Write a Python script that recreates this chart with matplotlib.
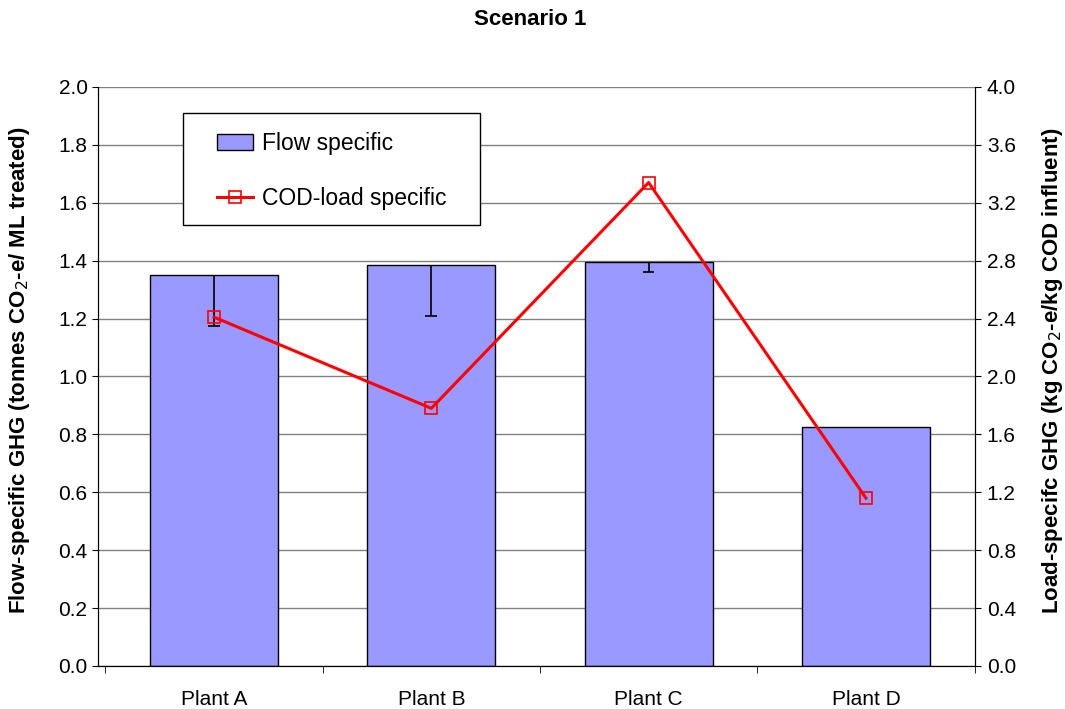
import numpy as np
import matplotlib.pyplot as plt
from matplotlib.patches import Rectangle

plt.rcParams['font.family'] = ['Liberation Sans', 'DejaVu Sans']

plants = ['Plant A', 'Plant B', 'Plant C', 'Plant D']
flow_specific = [1.35, 1.385, 1.395, 0.826]
flow_err_minus = [0.176, 0.175, 0.035, 0.0]
cod_specific = [2.41, 1.78, 3.34, 1.16]

x = np.arange(len(plants))

fig = plt.figure(figsize=(10.65, 7.09), dpi=100)
ax = fig.add_axes([0.092, 0.0607, 0.8235, 0.8166])

ax.set_axisbelow(True)
ax.yaxis.grid(True, color='#808080', linewidth=1.0)
ax.bar(x, flow_specific, width=0.589, color='#9999ff', edgecolor='black',
       linewidth=1.0, label='Flow specific', zorder=2)

# minus-only error bars, cap at the lower end only
for xi, yi, e in zip(x, flow_specific, flow_err_minus):
    if e > 0:
        ax.vlines(xi, yi - e, yi, color='black', linewidth=1.2, zorder=3)
        ax.hlines(yi - e, xi - 0.027, xi + 0.027, color='black', linewidth=1.2, zorder=3)

ax.set_xlim(-0.534, 3.502)
ax.set_ylim(0, 2.0)
yt = np.arange(0, 2.01, 0.2)
ax.set_yticks(yt)
ax.set_yticklabels([f'{v:.1f}' for v in yt])
ax.set_xticks(x)
ax.set_xticklabels(plants)
ax.set_xticks(np.arange(-0.5, len(plants)), minor=True)
ax.tick_params(axis='x', which='major', length=0, pad=17, labelsize=15)
ax.tick_params(axis='x', which='minor', length=5, direction='out')
ax.tick_params(axis='y', length=4.5, pad=3, direction='out', labelsize=15)
ax.spines['top'].set_visible(False)
ax.set_ylabel('Flow-specific GHG (tonnes CO$_2$-e/ ML treated)', fontsize=16,
              fontweight='bold')
ax.yaxis.set_label_coords(-0.0753, 0.51)

ax2 = ax.twinx()
ax2.plot(x, cod_specific, color='red', linewidth=2.2, marker='s', markersize=9,
         markerfacecolor='none', markeredgecolor='red', markeredgewidth=1.2,
         label='COD-load specific', zorder=4)
ax2.set_ylim(0, 4.0)
yt2 = np.arange(0, 4.01, 0.4)
ax2.set_yticks(yt2)
ax2.set_yticklabels([f'{v:.1f}' for v in yt2])
ax2.tick_params(axis='y', length=4.5, pad=4, direction='out', labelsize=15)
ax2.spines['top'].set_visible(False)
ax2.set_ylabel('Load-specifc GHG (kg CO$_2$-e/kg COD influent)', fontsize=16,
               fontweight='bold')
ax2.yaxis.set_label_coords(1.0741, 0.51)

# legend box drawn separately so its size matches
ax2.add_patch(Rectangle((0.097, 0.7617), 0.3386, 0.1933, transform=ax2.transAxes,
                        facecolor='white', edgecolor='black', linewidth=1.0,
                        zorder=5, clip_on=False))
h1, l1 = ax.get_legend_handles_labels()
h2, l2 = ax2.get_legend_handles_labels()
leg = ax2.legend(h1 + h2, l1 + l2, loc='upper left', bbox_to_anchor=(0.1357, 0.923),
                 fontsize=16.5, frameon=False, borderpad=0, labelspacing=1.43,
                 handlelength=1.55, handletextpad=0.42, borderaxespad=0)
leg.set_zorder(6)

fig.text(0.4977, 0.972, 'Scenario 1', fontsize=16, fontweight='bold',
         ha='center', va='center')

fig.savefig('out.png', dpi=100)
